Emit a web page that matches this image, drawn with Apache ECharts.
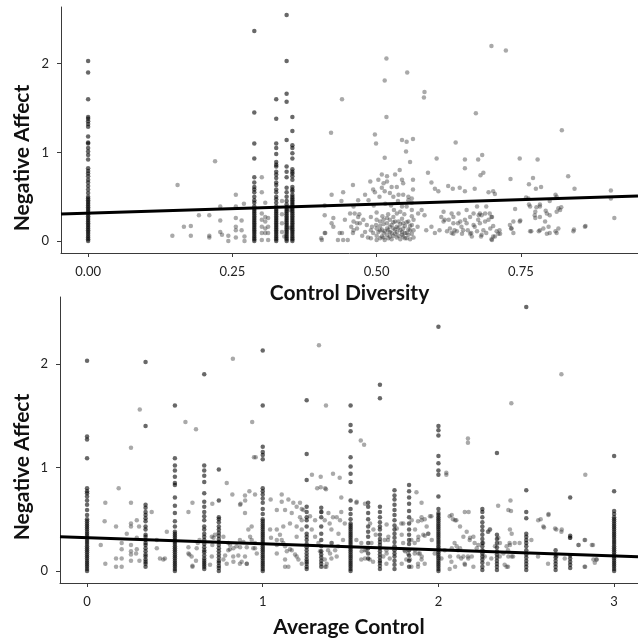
<!DOCTYPE html>
<html>
<head>
<meta charset="utf-8">
<script src="https://cdn.jsdelivr.net/npm/echarts@6/dist/echarts.min.js"></script>
<style>
html,body{margin:0;padding:0;background:#fff;}
#chart{width:638px;height:640px;}
</style>
</head>
<body>
<div id="chart"></div>
<script>
// ---------- Panel 1: Control Diversity ----------
const diversityTicks = [0, 0.25, 0.5, 0.75];
const affectTicks = [0, 1, 2];
const diversityColumnX = [0, 0.288, 0.326, 0.344, 0.354];
const diversityColumnY = [
  [0,0.02,0.04,0.06,0.08,0.1,0.12,0.14,0.16,0.18,0.2,0.22,0.24,0.26,0.28,0.3,0.32,0.34,0.36,0.38,0.4,0.42,0.44,0.46,0.48,0.5,0.54,0.58,0.62,0.66,0.69,0.73,0.76,0.79,0.82,0.92,0.97,1.01,1.05,1.1,1.11,1.18,1.29,1.32,1.35,1.38,1.4,1.6,1.9,2.03],
  [0,0.02,0.04,0.06,0.08,0.1,0.12,0.14,0.16,0.18,0.2,0.22,0.24,0.26,0.28,0.3,0.32,0.34,0.36,0.39,0.43,0.46,0.5,0.55,0.58,0.61,0.66,0.72,0.93,1.1,1.45,2.37],
  [0,0.02,0.04,0.06,0.08,0.1,0.12,0.14,0.16,0.18,0.2,0.22,0.24,0.26,0.28,0.3,0.32,0.34,0.36,0.39,0.43,0.47,0.5,0.55,0.58,0.63,0.66,0.71,0.75,0.78,0.84,0.86,0.89,0.98,1.05,1.1,1.38,1.6],
  [0,0.02,0.04,0.06,0.08,0.1,0.12,0.14,0.16,0.18,0.2,0.22,0.24,0.26,0.28,0.3,0.32,0.34,0.36,0.38,0.41,0.45,0.5,0.55,0.6,0.72,0.78,0.84,1.14,1.57,1.66,2.03,2.55],
  [0,0.02,0.04,0.06,0.08,0.1,0.12,0.14,0.16,0.18,0.2,0.22,0.24,0.26,0.28,0.3,0.32,0.34,0.36,0.38,0.4,0.42,0.44,0.46,0.48,0.5,0.52,0.56,0.58,0.61,0.69,0.73,0.76,0.78,0.81,0.93,0.99,1.05,1.08,1.24,1.4]
];
const diversityScatter = [
  [0.146,0.06],[0.155,0.63],[0.166,0.16],[0.178,0.17],[0.178,0.06],[0.192,0.29],[0.21,0.29],[0.21,0.06],[0.21,0.04],[0.22,0.9],[0.229,0.39],[0.229,0.23],[0.229,0.1],[0.232,0.07],[0.243,0.06],[0.243,0],[0.256,0.52],[0.256,0.39],[0.256,0.26],[0.256,0.16],[0.256,0.12],[0.256,0.04],[0.266,0.23],[0.266,0.12],[0.271,0.05],[0.271,0],[0.27,0.42],
  [0.301,0.72],[0.301,0.55],[0.301,0.31],[0.301,0.24],[0.301,0.16],[0.301,0.09],[0.301,0.01],[0.307,0.43],[0.307,0.27],[0.307,0.22],[0.307,0.14],[0.307,0.09],[0.312,0.26],[0.312,0.16],[0.312,0.09],[0.312,0.01],[0.336,0.45],[0.336,0.3],[0.336,0.2],[0.336,0.1],[0.34,0.05],[0.35,0.15],[0.35,0.35],
  [0.404,0.03],[0.405,0.01],[0.41,0.09],[0.41,0.29],[0.41,0.4],[0.411,0.09],[0.421,1.22],[0.422,0.2],[0.422,0.52],[0.425,0.16],[0.425,0.26],[0.433,0.01],[0.436,0.09],[0.439,0.45],[0.44,1.6],[0.44,0.09],[0.442,0.55],[0.442,0.01],[0.445,0.24],[0.45,0.01],[0.456,0.16],[0.459,0.09],[0.459,0.63],[0.462,0.31],[0.466,0.2],[0.468,0.27],[0.46,0.12],
  [0.497,1.2],[0.499,1.1],[0.514,1.81],[0.517,2.06],[0.517,1.4],[0.514,0.94],[0.544,1.14],[0.552,1.12],[0.551,1.01],[0.553,1.9],[0.563,1.15],[0.558,0.89],[0.54,0.8],[0.532,0.75],[0.544,0.69],[0.546,0.65],[0.535,0.61],[0.526,0.61],[0.518,0.73],[0.518,0.67],[0.512,0.65],[0.509,0.6],[0.514,0.56],[0.523,0.54],[0.529,0.5],[0.538,0.52],[0.546,0.52],[0.555,0.5],[0.561,0.48],[0.563,0.58],[0.563,0.69],[0.555,0.46],[0.561,0.43],[0.561,0.35],[0.552,0.39],[0.544,0.39],[0.541,0.33],[0.535,0.31],[0.529,0.27],[0.523,0.24],[0.518,0.26],[0.512,0.24],[0.506,0.22],[0.5,0.24],[0.499,0.18],[0.506,0.12],[0.512,0.09],[0.514,0.01],[0.52,0.03],[0.526,0.09],[0.529,0.14],[0.535,0.16],[0.541,0.12],[0.544,0.07],[0.549,0.03],[0.552,0.09],[0.558,0.12],[0.561,0.18],[0.564,0.24],[0.555,0.22],[0.546,0.2],[0.538,0.22],[0.532,0.22],[0.523,0.16],[0.518,0.14],[0.509,0.05],[0.5,0.01],[0.494,0.09],[0.492,0.16],[0.483,0.18],[0.477,0.24],[0.471,0.2],[0.466,0.14],[0.46,0.22],[0.454,0.31],[0.46,0.39],[0.468,0.46],[0.48,0.52],[0.489,0.67],[0.486,0.46],[0.494,0.58],[0.503,0.69],[0.509,0.75],
  [0.49,0.03],[0.49,0.12],[0.5,0.06],[0.5,0.14],[0.503,0.1],[0.506,0.03],[0.506,0.17],[0.509,0.13],[0.512,0.04],[0.512,0.19],[0.514,0.11],[0.518,0.07],[0.518,0.2],[0.52,0.12],[0.523,0.05],[0.523,0.1],[0.526,0.02],[0.526,0.18],[0.529,0.06],[0.529,0.21],[0.532,0.08],[0.532,0.13],[0.535,0.04],[0.535,0.1],[0.538,0.15],[0.538,0.06],[0.541,0.02],[0.541,0.19],[0.544,0.1],[0.544,0.25],[0.546,0.05],[0.546,0.14],[0.549,0.09],[0.549,0.17],[0.552,0.03],[0.552,0.21],[0.555,0.07],[0.555,0.13],[0.558,0.02],[0.558,0.17],[0.561,0.08],[0.561,0.28],[0.564,0.12],[0.564,0.04],[0.548,0.3],[0.53,0.35],[0.52,0.3],[0.51,0.28],[0.5,0.32],[0.49,0.27],[0.48,0.1],[0.485,0.04],[0.475,0.06],[0.47,0.3],[0.495,0.4],[0.515,0.42],[0.525,0.4],[0.537,0.45],[0.505,0.5],[0.497,0.55],
  [0.571,0.16],[0.572,0.31],[0.578,0.35],[0.583,0.29],[0.586,0.12],[0.595,0.16],[0.601,0.09],[0.609,0.12],[0.612,0.27],[0.618,0.24],[0.63,0.31],[0.63,0.09],[0.633,0.27],[0.635,0.12],[0.641,0.2],[0.647,0.16],[0.653,0.24],[0.658,0.12],[0.664,0.09],[0.67,0.16],[0.676,0.24],[0.679,0.31],[0.69,0.39],[0.699,0.27],[0.696,0.31],
  [0.616,0.33],[0.616,0.22],[0.625,0.24],[0.642,0.31],[0.656,0.35],[0.662,0.27],[0.668,0.31],[0.674,0.39],[0.677,0.29],[0.682,0.29],[0.688,0.31],[0.694,0.24],[0.7,0.27],[0.688,0.22],[0.679,0.2],[0.668,0.18],[0.656,0.2],[0.645,0.22],[0.633,0.2],[0.627,0.14],[0.639,0.11],[0.65,0.12],[0.662,0.08],[0.674,0.11],[0.685,0.12],[0.697,0.14],[0.708,0.11],[0.714,0.08],[0.702,0.05],[0.7,0.01],[0.682,0.07],[0.665,0.05],[0.648,0.08],[0.633,0.08],[0.622,0.11],
  [0.699,2.2],[0.724,2.15],[0.583,1.68],[0.582,1.62],[0.672,1.44],[0.821,1.25],[0.637,1.11],[0.604,0.93],[0.653,0.92],[0.676,0.92],[0.683,0.97],[0.653,0.82],[0.748,0.93],[0.779,0.92],[0.589,0.77],[0.68,0.74],[0.685,0.77],[0.595,0.66],[0.601,0.59],[0.607,0.56],[0.624,0.62],[0.632,0.59],[0.644,0.6],[0.653,0.56],[0.67,0.59],[0.694,0.55],[0.702,0.56],[0.705,0.53],[0.732,0.7],[0.771,0.71],[0.764,0.64],[0.776,0.59],[0.785,0.61],[0.832,0.73],[0.843,0.59],[0.906,0.57],[0.906,0.48],[0.912,0.26],[0.862,0.17],[0.842,0.13],[0.81,0.52],[0.815,0.37],[0.82,0.38],[0.8,0.45],[0.793,0.34],[0.8,0.29],[0.783,0.41],[0.777,0.38],[0.774,0.29],[0.768,0.11],[0.781,0.11],[0.789,0.14],[0.8,0.09],[0.812,0.09],[0.764,0.41],[0.763,0.48],[0.74,0.36],[0.749,0.23],[0.733,0.14],[0.737,0.09],[0.731,0.18],[0.711,0.08],[0.713,0.12],[0.705,0.05],[0.702,0.17],[0.699,0.02],[0.69,0.09],[0.681,0.05],[0.759,0.49],[0.812,0.5],[0.737,0.22],[0.748,0.22],[0.766,0.39],[0.775,0.33],[0.783,0.39],[0.795,0.31],[0.783,0.27],[0.775,0.26],[0.792,0.22],[0.798,0.16],[0.783,0.12],[0.766,0.11],[0.795,0.08],[0.81,0.11],[0.815,0.14],[0.812,0.33],[0.818,0.35],[0.841,0.11],[0.861,0.16],[0.734,0.14]
];
const diversityFit = [[-0.047, 0.303], [0.953, 0.508]];

// ---------- Panel 2: Average Control ----------
const controlTicks = [0, 1, 2, 3];
const controlColumnX = [0, 0.333, 0.5, 0.667, 0.75, 1, 1.25, 1.333, 1.5, 1.6, 1.667, 1.75, 1.833, 2, 2.25, 2.333, 2.5, 2.667, 2.75, 3];
const controlColumnY = [
  [0,0.02,0.04,0.06,0.08,0.1,0.12,0.14,0.16,0.18,0.2,0.22,0.24,0.26,0.28,0.3,0.32,0.34,0.36,0.38,0.4,0.42,0.44,0.46,0.48,0.5,0.54,0.59,0.64,0.68,0.72,0.75,0.77,0.8,1.09,1.27,1.3,2.03],
  [0.04,0.07,0.09,0.11,0.14,0.16,0.19,0.22,0.25,0.27,0.3,0.33,0.35,0.4,0.43,0.48,0.51,0.54,0.57,0.61,0.64,1.4,2.02],
  [0,0.02,0.04,0.06,0.08,0.1,0.12,0.14,0.16,0.18,0.2,0.22,0.24,0.26,0.28,0.3,0.32,0.34,0.36,0.38,0.43,0.48,0.56,0.63,0.71,0.83,0.85,0.91,0.97,1.02,1.09,1.6],
  [0.02,0.04,0.06,0.08,0.1,0.12,0.15,0.18,0.2,0.23,0.26,0.3,0.33,0.36,0.4,0.43,0.49,0.53,0.57,0.62,0.67,0.75,0.86,0.92,0.97,1.02,1.9],
  [0,0.03,0.05,0.08,0.1,0.13,0.16,0.19,0.22,0.25,0.28,0.31,0.34,0.37,0.4,0.43,0.47,0.5,0.52,0.68,0.98],
  [0,0.02,0.04,0.06,0.08,0.1,0.12,0.14,0.16,0.18,0.2,0.22,0.24,0.26,0.28,0.3,0.32,0.34,0.36,0.38,0.4,0.42,0.44,0.46,0.48,0.5,0.55,0.6,0.66,0.7,0.74,0.77,0.8,1.08,1.12,1.15,1.2,1.6,2.13],
  [0.02,0.04,0.07,0.09,0.11,0.14,0.17,0.2,0.23,0.26,0.3,0.33,0.36,0.43,0.49,0.52,0.57,0.62,0.88,1.13,1.65],
  [0.04,0.07,0.1,0.13,0.16,0.19,0.24,0.3,0.36,0.43,0.52,0.57,0.61],
  [0,0.02,0.04,0.06,0.08,0.1,0.12,0.14,0.16,0.18,0.2,0.22,0.24,0.26,0.28,0.3,0.32,0.34,0.36,0.38,0.4,0.42,0.44,0.46,0.5,0.55,0.6,0.68,0.86,0.94,1.01,1.1,1.35,1.41,1.6],
  [0.12,0.17,0.22,0.27,0.33,0.38,0.43,0.5,0.56,0.62,0.66],
  [0.02,0.05,0.08,0.1,0.13,0.16,0.19,0.22,0.25,0.28,0.31,0.35,0.4,0.43,0.47,0.52,0.57,0.62,1.67,1.8],
  [0.02,0.06,0.1,0.14,0.17,0.2,0.24,0.28,0.32,0.36,0.4,0.44,0.49,0.54,0.59,0.64,0.69,0.73,0.78],
  [0.04,0.1,0.15,0.2,0.26,0.3,0.35,0.4,0.46,0.52,0.58,0.65,0.71,0.77,0.83],
  [0,0.02,0.04,0.06,0.08,0.1,0.12,0.14,0.16,0.18,0.2,0.22,0.24,0.26,0.28,0.3,0.32,0.34,0.36,0.38,0.4,0.42,0.44,0.46,0.48,0.5,0.52,0.54,0.56,0.6,0.72,0.93,0.97,1.04,1.11,1.31,1.36,1.4,2.36],
  [0.01,0.04,0.08,0.11,0.14,0.17,0.2,0.24,0.27,0.31,0.35,0.39,0.43,0.47,0.52,0.57,0.6],
  [0.01,0.04,0.07,0.1,0.13,0.16,0.19,0.23,0.27,0.31,0.35,1.14],
  [0.01,0.04,0.07,0.1,0.13,0.16,0.2,0.24,0.27,0.3,0.33,0.36,0.51,0.57,0.78,2.55],
  [0.01,0.04,0.07,0.1,0.13,0.16,0.2],
  [0.03,0.06,0.09,0.12,0.15,0.32,0.34,0.71],
  [0,0.02,0.04,0.06,0.08,0.1,0.12,0.14,0.16,0.18,0.2,0.22,0.24,0.26,0.28,0.3,0.32,0.34,0.36,0.38,0.4,0.42,0.44,0.46,0.48,0.5,0.52,0.55,0.58,0.77,1.11]
];
const controlScatter = [
  [0.25,1.19],[0.3,1.56],[0.56,1.44],[0.62,1.37],[0.83,2.05],[0.94,1.44],[0.95,1.1],[0.96,1.1],[1.32,2.18],[1.28,0.93],[0.104,0.66],[0.18,0.8],[0.1,0.48],[0.165,0.43],[0.078,0.25],[0.104,0.07],[0.165,0.12],[0.165,0.04],[0.197,0.27],[0.197,0.21],[0.197,0.12],[0.197,0.04],[0.226,0.36],[0.25,0.43],[0.25,0.25],[0.25,0.16],[0.25,0.1],[0.283,0.49],[0.283,0.32],[0.283,0.21],[0.298,0.1],[0.25,0.66],[0.368,0.57],[0.397,0.22],[0.415,0.12],[0.434,0.11],[0.443,0.12],[0.397,0.3],[0.454,0.38],[0.577,0.57],[0.6,0.66],[0.577,0.17],[0.595,0.14],[0.6,0.04],[0.62,0.1],[0.63,0.27],[0.64,0.3],[0.713,0.65],[0.713,0.25],[0.795,0.85],[0.827,0.74],[0.804,0.27],[0.813,0.21],[0.832,0.14],[0.851,0.24],[0.87,0.3],[0.87,0.07],[0.899,0.14],[0.909,0.07],[0.899,0.56],[0.874,0.65],[0.899,0.73],[0.924,0.77],[0.937,0.3],[0.946,0.22],[0.956,0.27],
  [0.296,0.43],[0.25,0.46],[0.279,0.17],[0.25,0.19],[0.582,0.16],[0.6,0.05],[0.577,0.23],[0.624,0.22],[0.9,0.68],[0.871,0.64],[0.956,0.74],
  [0.71,0.33],[0.72,0.32],[0.728,0.35],[0.776,0.33],[0.804,0.2],[0.814,0.25],[0.833,0.22],[0.861,0.15],[0.871,0.23],[0.89,0.28],[0.909,0.23],[0.909,0.07],[0.88,0.09],[0.833,0.09],[0.795,0.07],[0.776,0.11],[0.71,0.14],[0.7,0.06],[0.786,0.15],[0.918,0.4],[0.937,0.43],[0.928,0.33],[0.956,0.22],[0.966,0.17],
  [1.045,0.69],[1.08,0.59],[1.108,0.67],[1.127,0.59],[1.146,0.69],[1.174,0.66],[1.193,0.62],[1.212,0.66],[1.117,0.43],[1.155,0.46],[1.193,0.43],[1.212,0.52],[1.231,0.59],[1.08,0.3],[1.117,0.27],[1.155,0.21],[1.193,0.14],[1.222,0.07],[1.127,0.04],[1.08,0.17],[1.042,0.4],[1.108,0.74],[1.222,0.6],[1.165,0.56],
  [1.08,0.4],[1.098,0.35],[1.108,0.3],[1.127,0.24],[1.137,0.19],[1.165,0.2],[1.184,0.16],[1.203,0.11],[1.146,0.04],[1.127,0.11],[1.08,0.25],[1.047,0.32],[1.193,0.33],[1.222,0.4],[1.279,0.4],[1.298,0.33],[1.317,0.27],[1.326,0.19],[1.355,0.04],[1.364,0.07],[1.383,0.17],[1.393,0.27],[1.412,0.2],[1.421,0.14],[1.431,0.36],[1.44,0.49],[1.421,0.52],[1.374,0.56],[1.298,0.49],[1.269,0.53],[1.222,0.49],[1.31,0.8],[1.355,0.8],
  [1.36,1.6],[1.558,1.26],[1.577,1.22],[1.4,0.94],[1.438,0.9],[1.36,0.79],[1.33,0.81],[1.33,0.91],[1.447,0.71],[1.533,0.66],[1.875,0.76],[1.904,0.66],[2.045,0.95],[2.045,0.93],[2.168,1.28],[2.168,1.24],[2.415,1.62],[2.7,1.9],[2.836,0.93],[2.41,0.68],[2.413,0.58],[2.34,0.63],[2.15,0.57],[2.172,0.57],[2.064,0.53],[2.083,0.5],[2.102,0.49],[1.96,0.53],[1.922,0.5],[1.904,0.52],[1.884,0.48],[1.941,0.36],[1.922,0.34],[1.884,0.3],[1.865,0.27],[1.846,0.3],[1.827,0.17],
  [2.582,0.5],[2.601,0.42],[2.627,0.55],[2.671,0.4],[2.7,0.38],[2.798,0.25],[2.832,0.3],[2.88,0.25],[2.899,0.11],[2.89,0.08],[2.832,0.04],[2.719,0.12],[2.671,0.14],[2.624,0.07],[2.567,0.14],[2.529,0.3],[2.462,0.27],[2.434,0.27],[2.405,0.27],[2.396,0.2],[2.425,0.14],[2.396,0.04],[2.377,0.06],[2.349,0.14],[2.301,0.12],[2.282,0.07],[2.264,0.14],[2.254,0.27],[2.282,0.38],[2.292,0.4],[2.206,0.27],[2.178,0.3],[2.168,0.14],[2.149,0.07],[2.13,0.12],[2.111,0.2],[2.092,0.27],[2.074,0.09],[2.064,0.02],[2.036,0.2],[2.017,0.12],[1.979,0.17],
  [1.334,0.57],[1.353,0.49],[1.381,0.46],[1.4,0.52],[1.391,0.4],[1.391,0.27],[1.372,0.2],[1.353,0.11],[1.391,0.12],[1.362,0.04],[1.429,0.24],[1.457,0.3],[1.467,0.46],[1.447,0.57],[1.533,0.3],[1.561,0.27],[1.619,0.27],[1.59,0.2],[1.561,0.11],[1.609,0.11],[1.628,0.09],[1.694,0.3],[1.713,0.3],[1.704,0.2],[1.704,0.07],[1.723,0.12],[1.789,0.46],[1.799,0.27],[1.808,0.2],[1.817,0.11],[1.846,0.04],[1.884,0.07],[1.904,0.11],[1.884,0.04],[1.922,0.07],[1.894,0.17],[1.865,0.17],
  [1.535,0.67],[1.582,0.65],[1.611,0.46],[1.63,0.4],[1.643,0.35],[1.705,0.45],[1.715,0.33],[1.763,0.41],[1.791,0.35],[1.8,0.46],[1.848,0.49],[1.867,0.4],[1.886,0.33],[1.905,0.49],[1.914,0.35],[1.933,0.43],[1.952,0.53],[1.943,0.36],[1.962,0.3],[1.867,0.2],[1.886,0.17],[1.905,0.14],[1.838,0.11],[1.81,0.19],[1.791,0.07],[1.705,0.17],[1.686,0.14],[1.582,0.12],[1.563,0.19],[1.582,0.2],
  [2.076,0.54],[2.095,0.49],[2.123,0.43],[2.142,0.33],[2.161,0.38],[2.18,0.32],[2.199,0.33],[2.076,0.22],[2.104,0.24],[2.123,0.22],[2.066,0.14],[2.114,0.14],[2.142,0.14],[2.17,0.12],[2.19,0.14],[2.199,0.04],[2.151,0.06],[2.095,0.04],[2.218,0.22],[2.227,0.25],[2.256,0.19],[2.284,0.38],[2.294,0.4],[2.322,0.24],[2.341,0.32],[2.35,0.27],[2.37,0.17],[2.388,0.24],[2.398,0.14],[2.407,0.25],[2.417,0.14],[2.388,0.04],[2.398,0.59],[2.407,0.4],[2.417,0.36],[2.568,0.49],[2.597,0.43],[2.626,0.54],[2.664,0.41],[2.702,0.4],[2.749,0.32],[2.797,0.25],[2.835,0.3],[2.873,0.25],[2.901,0.11],[2.882,0.11],[2.835,0.04]
];
const controlFit = [[-0.154, 0.331], [3.136, 0.138]];

function columnPoints(xs, ys) {
  const out = [];
  xs.forEach((x, i) => ys[i].forEach(y => out.push([x, y])));
  return out;
}

const FONT = 'Lato, "Liberation Sans", sans-serif';
const axisColor = '#3a3a3a';
const dotStyle = { color: 'rgba(40,40,40,0.5)' };
const columnDotStyle = { color: 'rgba(0,0,0,0.74)' };

function xAxisCfg(gi, min, max, ticks, fmt, name, gap) {
  return {
    gridIndex: gi, type: 'value', min: min, max: max,
    axisLine: { show: true, onZero: false, lineStyle: { color: axisColor, width: 1 } },
    axisTick: { show: true, length: 4, customValues: ticks, lineStyle: { color: axisColor } },
    axisLabel: { customValues: ticks, formatter: fmt, fontSize: 13, color: '#222', margin: 12, fontFamily: FONT },
    splitLine: { show: false },
    name: name, nameLocation: 'middle', nameGap: gap,
    nameTextStyle: { fontSize: 21, fontWeight: 'bold', color: '#111', fontFamily: FONT }
  };
}
function yAxisCfg(gi, min, max) {
  return {
    gridIndex: gi, type: 'value', min: min, max: max,
    axisLine: { show: true, onZero: false, lineStyle: { color: axisColor, width: 1 } },
    axisTick: { show: true, length: 4, customValues: affectTicks, lineStyle: { color: axisColor } },
    axisLabel: { customValues: affectTicks, formatter: v => String(v), fontSize: 13, color: '#222', margin: 12, fontFamily: FONT },
    splitLine: { show: false }
  };
}

const chart = echarts.init(document.getElementById('chart'), null, { renderer: 'canvas' });
chart.setOption({
  animation: false,
  backgroundColor: '#fff',
  grid: [
    { left: 61, top: 7, width: 577, height: 246 },
    { left: 60, top: 297, width: 578, height: 286 }
  ],
  xAxis: [
    xAxisCfg(0, -0.047, 0.953, diversityTicks, v => v.toFixed(2), 'Control Diversity', 30),
    xAxisCfg(1, -0.154, 3.136, controlTicks, v => String(v), 'Average Control', 34)
  ],
  yAxis: [
    yAxisCfg(0, -0.136, 2.64),
    yAxisCfg(1, -0.116, 2.647)
  ],
  graphic: [
    { type: 'text', x: 22, y: 158, rotation: Math.PI / 2,
      style: { text: 'Negative Affect', fontSize: 21, fontWeight: 'bold', fontFamily: FONT, fill: '#111', align: 'center', verticalAlign: 'middle' } },
    { type: 'text', x: 22, y: 467, rotation: Math.PI / 2,
      style: { text: 'Negative Affect', fontSize: 21, fontWeight: 'bold', fontFamily: FONT, fill: '#111', align: 'center', verticalAlign: 'middle' } }
  ],
  series: [
    { type: 'scatter', xAxisIndex: 0, yAxisIndex: 0, symbolSize: 4.5, itemStyle: dotStyle, silent: true,
      data: diversityScatter },
    { type: 'scatter', xAxisIndex: 0, yAxisIndex: 0, symbolSize: 4.5, itemStyle: columnDotStyle, silent: true,
      data: columnPoints(diversityColumnX, diversityColumnY) },
    { type: 'line', xAxisIndex: 0, yAxisIndex: 0, data: diversityFit, symbol: 'none', silent: true, z: 5,
      lineStyle: { color: '#000', width: 3 } },
    { type: 'scatter', xAxisIndex: 1, yAxisIndex: 1, symbolSize: 4.5, itemStyle: dotStyle, silent: true,
      data: controlScatter },
    { type: 'scatter', xAxisIndex: 1, yAxisIndex: 1, symbolSize: 4.5, itemStyle: columnDotStyle, silent: true,
      data: columnPoints(controlColumnX, controlColumnY) },
    { type: 'line', xAxisIndex: 1, yAxisIndex: 1, data: controlFit, symbol: 'none', silent: true, z: 5,
      lineStyle: { color: '#000', width: 3 } }
  ]
});
</script>
</body>
</html>
